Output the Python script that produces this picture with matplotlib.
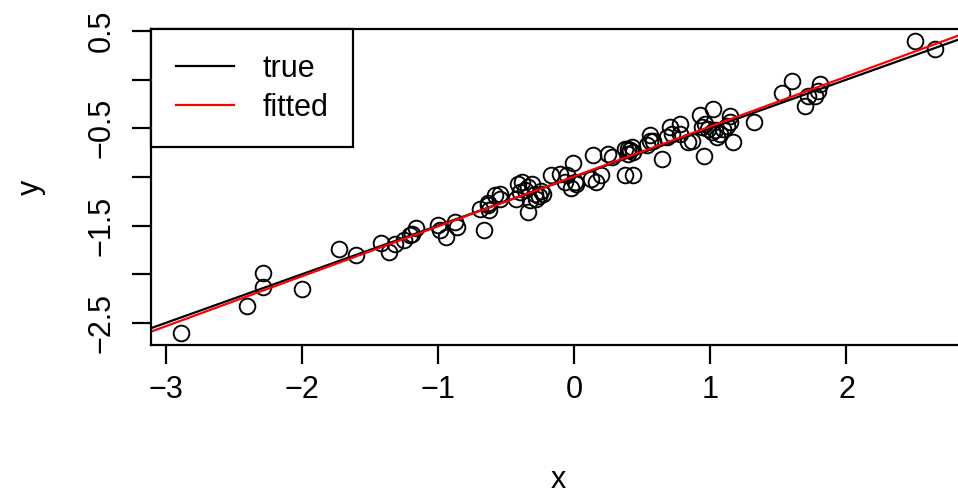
import numpy as np
import matplotlib.pyplot as plt

plt.rcParams['font.family'] = ['Liberation Sans', 'DejaVu Sans']

x = np.array([-2.888, -2.403, -2.288, -2.288, -2.000, -1.732, -1.607, -1.418, -1.362, -1.320,
              -1.254, -1.190, -1.160, -1.001, -0.989, -0.945, -0.879, -0.862, -0.663, -0.695,
              -0.634, -0.629, -0.585, -0.548, -0.413, -0.401, -0.425, -0.381, -0.340, -0.307,
              -0.290, -0.259, -0.241, -0.340, -0.283, -0.327, -0.168, -0.107, -0.057, -0.070,
              -0.021, -0.011, 0.004, 0.138, 0.126, 0.163, 0.200, 0.249, 0.274, 0.371,
              0.428, 0.371, 0.396, 0.408, 0.432, 0.421, 0.531, 0.555, 0.579, 0.641,
              0.678, 0.702, 0.715, 0.776, 0.837, 0.776, 0.923, 1.021, 0.960, 0.935,
              0.984, 1.009, 1.046, 0.862, 1.143, 1.143, 1.119, 1.094, 1.163, 1.320,
              0.952, 1.524, 1.597, 1.695, 1.719, 1.793, 1.805, 2.504, 2.651, -1.210,
              -0.360, -0.232, 0.011, 0.393, 1.033, 1.070, 1.768, 0.555, -0.548, -0.636])
y = np.array([-2.608, -2.325, -1.987, -2.133, -2.149, -1.744, -1.798, -1.679, -1.771, -1.685,
              -1.644, -1.583, -1.521, -1.497, -1.549, -1.617, -1.464, -1.515, -1.542, -1.326,
              -1.269, -1.336, -1.190, -1.179, -1.070, -1.156, -1.224, -1.053, -1.105, -1.070,
              -1.172, -1.200, -1.146, -1.361, -1.224, -1.241, -0.985, -0.967, -0.985, -1.053,
              -1.111, -0.862, -1.056, -0.779, -1.018, -1.053, -0.985, -0.762, -0.797, -0.985,
              -0.985, -0.711, -0.762, -0.728, -0.746, -0.694, -0.677, -0.574, -0.626, -0.813,
              -0.592, -0.489, -0.557, -0.557, -0.643, -0.454, -0.359, -0.301, -0.454, -0.489,
              -0.506, -0.541, -0.592, -0.626, -0.369, -0.438, -0.472, -0.506, -0.643, -0.438,
              -0.790, -0.141, -0.010, -0.267, -0.164, -0.113, -0.044, 0.400, 0.315, -1.600,
              -1.138, -1.179, -1.077, -0.718, -0.523, -0.554, -0.164, -0.626, -1.231, -1.292])

true_intercept, true_slope = -1.0, 0.5
fit_intercept, fit_slope = -0.995, 0.513

x_ticks = [-3, -2, -1, 0, 1, 2]
x_tick_labels = ['\u22123', '\u22122', '\u22121', '0', '1', '2']
y_ticks = [-2.5, -2.0, -1.5, -1.0, -0.5, 0.0, 0.5]
y_tick_labels = ['\u22122.5', '', '\u22121.5', '', '\u22120.5', '', '0.5']

fs = 22
lw = 1.6
fig = plt.figure(figsize=(9.58, 4.97), dpi=100)
ax = fig.add_axes([0.1576, 0.3058, 0.850, 0.6358])

ax.plot(x, y, 'o', ls='none', mfc='none', mec='black', ms=11.3, mew=1.35)
ax.axline((0, true_intercept), slope=true_slope, color='black', lw=lw, label='true')
ax.axline((0, fit_intercept), slope=fit_slope, color='red', lw=lw, label='fitted')

ax.set_xlim(-3.11, 2.873)
ax.set_ylim(-2.728, 0.52)

ax.set_xticks(x_ticks, x_tick_labels)
ax.set_yticks(y_ticks, y_tick_labels)
ax.tick_params(axis='both', direction='out', length=13.5, width=lw, labelsize=fs, colors='black')
ax.tick_params(axis='x', pad=8)
ax.tick_params(axis='y', pad=11)
for lab in ax.get_yticklabels():
    lab.set_rotation(90)
    lab.set_va('center')

for sp in ax.spines.values():
    sp.set_linewidth(lw)
    sp.set_color('black')

ax.set_xlabel('x', fontsize=fs)
ax.set_ylabel('y', fontsize=fs, rotation=90)
ax.xaxis.set_label_coords(0.5, -0.426)
ax.yaxis.set_label_coords(-0.148, 0.5)
ax.xaxis.label.set_va('center')
ax.yaxis.label.set_va('center')

leg = ax.legend(loc='upper left', bbox_to_anchor=(0, 1), borderaxespad=0, fontsize=fs,
                fancybox=False, edgecolor='black', framealpha=1, handlelength=1.9,
                handletextpad=0.95, borderpad=0.81, labelspacing=0.29)
leg.get_frame().set_linewidth(lw)

fig.savefig('out.png', dpi=100)
